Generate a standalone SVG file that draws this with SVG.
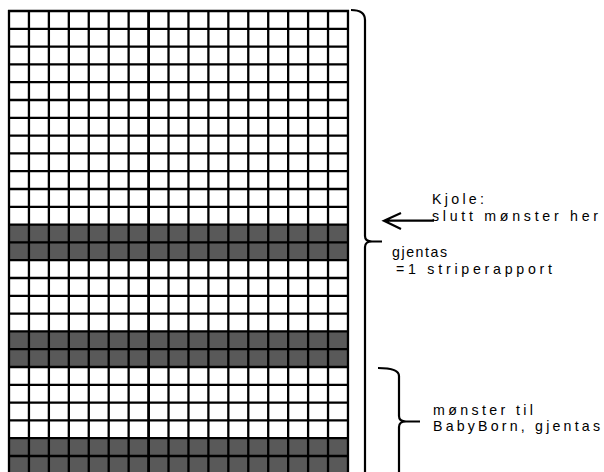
<svg xmlns="http://www.w3.org/2000/svg" width="604" height="472" viewBox="0 0 604 472">
<style>
.bg{fill:#ffffff}
.dark{fill:#595959}
.grid{stroke:#000;stroke-width:2.3;fill:none}
.mid{stroke:#000;stroke-width:2.8;fill:none}
.br{stroke:#000;stroke-width:2.2;fill:none}
.lbl{font-family:"Liberation Sans",Arial,sans-serif;font-size:14.2px;fill:#000}
</style>
<rect class="bg" x="0" y="0" width="604" height="472"/>
<g id="grid">
<rect class="dark" x="9" y="224.6" width="339" height="35.6"/>
<rect class="dark" x="9" y="331.4" width="339" height="35.6"/>
<rect class="dark" x="9" y="438.2" width="339" height="35.6"/>
<path class="grid" d="M9,10V474 M28.94,10V474 M48.88,10V474 M68.82,10V474 M88.76,10V474 M108.7,10V474 M128.64,10V474 M168.52,10V474 M188.46,10V474 M208.4,10V474 M228.34,10V474 M248.28,10V474 M268.22,10V474 M288.16,10V474 M308.1,10V474 M328.04,10V474 M347.98,10V474"/>
<path class="mid" d="M148.58,10V474"/>
<path class="grid" d="M8,11H349 M8,28.8H349 M8,46.6H349 M8,64.4H349 M8,82.2H349 M8,100H349 M8,117.8H349 M8,135.6H349 M8,153.4H349 M8,171.2H349 M8,189H349 M8,206.8H349 M8,224.6H349 M8,242.4H349 M8,260.2H349 M8,278H349 M8,295.8H349 M8,313.6H349 M8,331.4H349 M8,349.2H349 M8,367H349 M8,384.8H349 M8,402.6H349 M8,420.4H349 M8,438.2H349 M8,456H349"/>
</g>
<g id="connectors">
<path id="bracket-kjole" class="br" d="M351,10 Q365,10 365,20 L365,236 Q365,241.5 372,241.5 L382,241.5 M372,241.5 Q365,241.5 365,247 L365,472"/>
<path id="bracket-babyborn" class="br" d="M378,368 Q399,368 399,376 L399,416 Q399,421.5 406,421.5 L420,421.5 M406,421.5 Q399,421.5 399,427 L399,472"/>
<path id="arrow" class="br" d="M434,220.7 L384,220.7 M401,213 L384,220.7 L401,229"/>
</g>
<g id="labels">
<text class="lbl" x="432" y="204" textLength="52" lengthAdjust="spacing">Kjole:</text>
<text class="lbl" x="432" y="220.5" textLength="166" lengthAdjust="spacing">slutt mønster her</text>
<text class="lbl" x="392" y="257" textLength="55" lengthAdjust="spacing">gjentas</text>
<text class="lbl" x="396" y="274" textLength="156" lengthAdjust="spacing">=1 striperapport</text>
<text class="lbl" x="433" y="414.5" textLength="100" lengthAdjust="spacing">mønster til</text>
<text class="lbl" x="433" y="431" textLength="167" lengthAdjust="spacing">BabyBorn, gjentas</text>
</g>
</svg>
